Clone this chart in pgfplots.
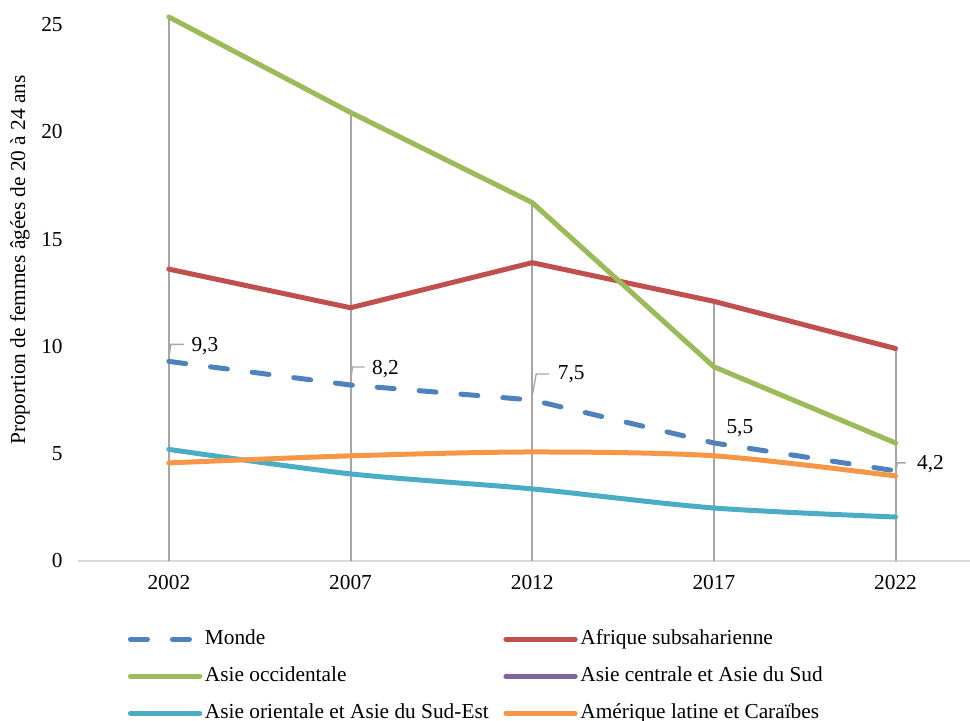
\documentclass[border=0pt]{standalone}
\usepackage{fontspec}
\setmainfont{Liberation Serif}
\usepackage{pgfplots}
\pgfplotsset{compat=1.18}
\usetikzlibrary{calc}

\definecolor{cMonde}{HTML}{4F81BD}
\definecolor{cAfr}{HTML}{C0504D}
\definecolor{cOcc}{HTML}{9BBB59}
\definecolor{cCen}{HTML}{8064A2}
\definecolor{cOri}{HTML}{4BACC6}
\definecolor{cAme}{HTML}{F79646}
\definecolor{dropgray}{HTML}{A6A6A6}
\definecolor{basegray}{HTML}{D9D9D9}

\newcommand{\chartfont}{\fontsize{16bp}{19bp}\selectfont}

\begin{document}
\begin{tikzpicture}[font=\chartfont]
\begin{axis}[
    scale only axis,
    width=669bp, height=402.4bp,
    xmin=-0.5, xmax=4.41,
    ymin=0, ymax=25,
    clip=false,
    xtick={0,1,2,3,4},
    xticklabels={2002,2007,2012,2017,2022},
    ytick={0,5,10,15,20,25},
    axis lines*=left,
    x axis line style={draw=basegray, line width=1.5bp, -},
    y axis line style={draw=none},
    major tick length=0pt,
    tick style={draw=none},
    /pgf/number format/assume math mode=true,
    tick label style={font=\chartfont},
    yticklabel style={xshift=-8bp},
    xticklabel style={yshift=-7bp},
    ylabel={Proportion de femmes âgées de 20 à 24 ans},
    every axis y label/.style={at={(axis description cs:-0.065,0.561)}, rotate=90, anchor=center, font=\chartfont},
    legend columns=2,
    legend cell align=left,
    legend image code/.code={\draw[#1] (0bp,0bp) -- (52bp,0bp);},
    legend style={at={(axis description cs:0.056,-0.1235)}, anchor=north west,
        draw=none, fill=none, inner sep=0pt, outer sep=0pt, font=\chartfont,
        nodes={inner sep=2bp, text height=11bp, text depth=3bp},
        row sep=9.75bp,
        /tikz/every odd column/.append style={column sep=0bp},
        /tikz/every even column/.append style={column sep=9bp}},
]
% lignes de projection
\addplot[ycomb, draw=dropgray, line width=1.5bp, no marks, forget plot]
    coordinates {(0,25.35) (1,20.9) (2,16.7) (3,12.1) (4,9.9)};

\addplot[cMonde, line width=3.75bp, line cap=round, dash pattern=on 12.75bp off 18.75bp]
    coordinates {(0,9.3) (1,8.2) (2,7.5) (3,5.5) (4,4.2)};
\addlegendentry{Monde}
\addplot[cAfr, line width=3.75bp, line cap=round, line join=round]
    coordinates {(0,13.6) (1,11.8) (2,13.9) (3,12.1) (4,9.9)};
\addlegendentry{Afrique subsaharienne}
\addplot[cOcc, line width=3.75bp, line cap=round, line join=round]
    coordinates {(0,25.35) (1,20.9) (2,16.7) (3,9.05) (4,5.5)};
\addlegendentry{Asie occidentale}
\addlegendimage{cCen, line width=3.75bp, line cap=round}
\addlegendentry{Asie centrale et Asie du Sud}
\addplot[cOri, line width=3.75bp, line cap=round, smooth]
    coordinates {(0,5.2) (1,4.06) (2,3.36) (3,2.47) (4,2.05)};
\addlegendentry{Asie orientale et Asie du Sud-Est}
\addplot[cAme, line width=3.75bp, line cap=round, smooth]
    coordinates {(0,4.57) (1,4.9) (2,5.08) (3,4.9) (4,3.96)};
\addlegendentry{Amérique latine et Caraïbes}

% étiquettes de la série Monde
\addplot[draw=none, forget plot, nodes near coords, point meta=explicit symbolic,
    visualization depends on={\thisrow{dx}\as\dx},
    visualization depends on={\thisrow{dy}\as\dy},
    every node near coord/.style={anchor=center, inner sep=0pt, font=\chartfont,
        xshift=\dx bp, yshift=\dy bp}]
    table[x=x, y=y, meta=lab] {
x y   lab dx    dy
0 9.3 9,3 27    11.25
1 8.2 8,2 26.25 12
2 7.5 7,5 29.25 19.5
3 5.5 5,5 19.5  11.25
4 4.2 4,2 26.25 5.25
};

\draw[dropgray, line width=1bp] ($(axis cs:0,9.3)+(0bp,2.25bp)$) -- ($(axis cs:0,9.3)+(1.5bp,12.75bp)$) -- ($(axis cs:0,9.3)+(11.25bp,12.75bp)$);
\draw[dropgray, line width=1bp] ($(axis cs:1,8.2)+(0bp,2.25bp)$) -- ($(axis cs:1,8.2)+(1.5bp,13.5bp)$) -- ($(axis cs:1,8.2)+(10.5bp,13.5bp)$);
\draw[dropgray, line width=1bp] ($(axis cs:2,7.5)+(0bp,3bp)$) -- ($(axis cs:2,7.5)+(3bp,19.5bp)$) -- ($(axis cs:2,7.5)+(12.75bp,19.5bp)$);
\draw[dropgray, line width=1bp] ($(axis cs:4,4.2)+(0bp,0bp)$) -- ($(axis cs:4,4.2)+(1.5bp,6bp)$) -- ($(axis cs:4,4.2)+(7.5bp,6bp)$);
\end{axis}
\pgfresetboundingbox
\path (-58.5bp,-120bp) rectangle (669bp,420.75bp);
\end{tikzpicture}
\end{document}
